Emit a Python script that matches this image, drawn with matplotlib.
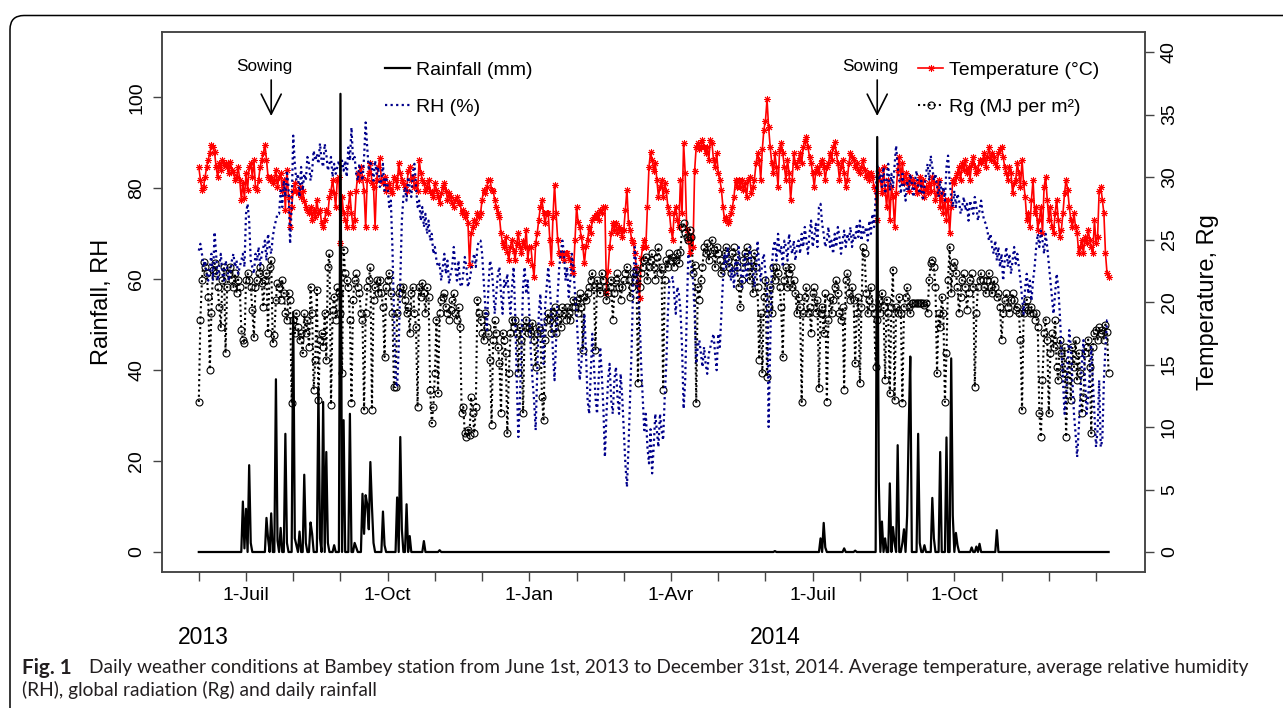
import numpy as np
import matplotlib
matplotlib.use('Agg')
import matplotlib.pyplot as plt
from matplotlib.patches import FancyBboxPatch

plt.rcParams['font.family'] = ['Liberation Sans', 'DejaVu Sans']

# ---------------- data (daily, 1 June 2013 = day 0 ... 31 Dec 2014 = day 578) ----------------
temp = [
    30.8, 29.8, 29.0, 29.2, 30.0, 30.8, 31.4, 31.9, 32.6, 32.4,
    32.0, 30.8, 30.0, 31.1, 30.6, 31.4, 31.0, 31.1, 30.8, 30.3,
    31.2, 30.6, 30.4, 29.8, 30.0, 30.8, 29.8, 28.2, 29.5, 28.3,
    30.3, 29.0, 30.8, 31.1, 30.0, 31.4, 29.2, 29.0, 29.8, 30.8,
    31.4, 31.9, 32.6, 31.4, 30.0, 29.8, 30.0, 29.5, 29.8, 30.6,
    29.2, 30.0, 30.3, 28.9, 29.8, 27.4, 30.6, 28.4, 26.0, 27.6,
    28.9, 29.5, 28.9, 28.7, 29.2, 28.4, 28.9, 28.1, 27.6, 27.4,
    27.1, 27.6, 26.6, 27.4, 26.8, 28.2, 27.1, 27.4, 26.3, 26.0,
    26.6, 27.4, 27.1, 28.4, 28.9, 29.8, 28.7, 27.6, 29.8, 30.0,
    24.7, 28.4, 27.1, 26.6, 26.0, 27.6, 28.7, 27.1, 26.0, 26.6,
    28.9, 30.3, 29.8, 30.8, 30.0, 28.9, 26.0, 29.8, 30.3, 31.1,
    29.5, 29.2, 26.0, 29.8, 30.8, 31.5, 29.8, 29.5, 30.0, 28.9,
    29.2, 29.5, 28.9, 28.7, 30.0, 29.8, 29.2, 31.1, 30.3, 29.8,
    29.5, 29.2, 28.9, 30.5, 30.8, 29.8, 30.0, 29.2, 29.5, 28.9,
    31.4, 30.3, 29.8, 29.5, 28.9, 29.2, 29.8, 28.9, 28.7, 28.4,
    29.5, 29.0, 28.4, 27.9, 28.7, 29.2, 29.5, 28.9, 28.2, 28.7,
    28.4, 27.9, 27.6, 28.2, 28.4, 27.9, 27.9, 27.1, 27.4, 26.8,
    27.1, 26.3, 23.0, 25.5, 26.0, 26.6, 26.3, 27.1, 26.8, 27.1,
    28.2, 29.0, 28.7, 29.2, 29.8, 29.8, 29.0, 28.9, 28.2, 27.6,
    27.1, 26.8, 25.5, 24.7, 24.4, 25.2, 24.0, 23.4, 24.4, 25.0,
    24.1, 23.4, 24.7, 25.5, 24.4, 23.9, 24.9, 24.4, 25.8, 23.4,
    24.4, 24.4, 23.0, 22.0, 24.7, 25.5, 26.6, 27.6, 28.2, 27.1,
    26.3, 27.1, 27.1, 25.0, 23.1, 26.8, 29.4, 27.1, 25.0, 23.9,
    23.7, 23.9, 23.4, 23.9, 23.9, 23.5, 23.4, 22.8, 22.3, 25.0,
    27.6, 26.4, 26.0, 25.2, 24.4, 23.1, 24.5, 25.0, 26.0, 25.5,
    26.6, 26.8, 26.8, 27.1, 26.6, 27.4, 27.1, 27.6, 27.6, 20.7,
    22.5, 24.4, 25.5, 26.3, 25.8, 26.3, 25.5, 26.0, 25.8, 25.2,
    25.8, 27.4, 29.0, 26.3, 25.8, 25.0, 24.7, 23.9, 22.8, 21.5,
    20.3, 23.5, 24.4, 25.0, 24.4, 27.6, 30.8, 32.0, 31.4, 30.5,
    31.1, 29.8, 28.4, 29.2, 29.8, 28.4, 29.5, 28.9, 27.6, 27.1,
    25.8, 25.0, 27.1, 27.6, 26.6, 26.0, 29.8, 27.1, 32.7, 30.3,
    25.8, 25.0, 23.9, 25.2, 24.4, 30.5, 32.4, 32.7, 32.2, 32.4,
    33.0, 32.4, 31.9, 32.4, 31.4, 33.0, 32.7, 31.4, 30.8, 31.9,
    30.3, 29.8, 29.0, 27.6, 26.6, 26.8, 26.3, 26.5, 27.1, 27.6,
    28.4, 29.8, 29.2, 29.8, 29.2, 29.8, 29.0, 29.5, 28.4, 29.8,
    30.0, 28.7, 29.2, 29.8, 31.1, 31.9, 31.4, 29.8, 32.2, 33.8,
    34.5, 36.2, 34.0, 32.4, 31.1, 30.3, 31.9, 30.8, 29.2, 32.2,
    32.7, 31.9, 30.8, 29.8, 31.4, 30.3, 28.2, 29.8, 31.9, 31.1,
    30.8, 31.4, 31.9, 31.1, 32.4, 32.9, 33.2, 32.4, 31.6, 31.1,
    30.3, 29.2, 30.5, 30.8, 30.3, 31.1, 31.4, 30.8, 29.8, 30.8,
    31.1, 31.9, 31.4, 32.4, 32.8, 31.9, 31.1, 29.8, 30.8, 31.4,
    30.3, 29.2, 29.8, 31.1, 31.9, 31.6, 31.4, 30.8, 31.1, 30.6,
    30.3, 30.8, 31.4, 30.6, 30.0, 30.3, 29.8, 30.3, 30.0, 29.2,
    28.9, 26.6, 30.6, 29.8, 28.7, 30.8, 29.0, 27.6, 29.8, 26.6,
    29.2, 28.4, 26.0, 28.7, 30.6, 31.6, 29.8, 31.1, 29.5, 30.3,
    29.8, 28.9, 30.0, 29.5, 29.8, 29.2, 28.7, 29.5, 30.0, 28.9,
    29.8, 28.4, 29.2, 28.7, 29.5, 28.9, 30.0, 29.5, 28.2, 28.7,
    29.8, 27.6, 28.7, 27.1, 28.2, 26.6, 28.2, 25.5, 27.6, 29.8,
    29.5, 30.0, 30.3, 30.8, 29.8, 31.1, 30.6, 31.4, 30.3, 30.8,
    29.8, 31.1, 31.6, 30.8, 30.3, 30.6, 31.4, 31.1, 31.4, 31.9,
    30.8, 31.6, 32.4, 31.4, 31.9, 31.6, 31.1, 30.8, 31.9, 32.2,
    32.4, 31.6, 30.8, 30.3, 29.8, 30.8, 30.3, 28.7, 29.5, 29.8,
    31.1, 30.3, 29.2, 31.4, 29.5, 28.4, 26.6, 27.1, 26.0, 28.2,
    29.8, 27.1, 27.6, 25.8, 26.6, 27.6, 25.5, 29.2, 30.0, 28.2,
    26.6, 27.6, 26.0, 25.5, 27.1, 28.2, 26.6, 25.2, 25.8, 27.1,
    28.7, 29.8, 29.0, 27.6, 26.6, 26.0, 27.1, 26.0, 25.5, 23.9,
    24.4, 25.0, 23.9, 25.2, 24.7, 25.8, 25.0, 24.4, 23.9, 26.6,
    24.7, 25.2, 28.9, 29.2, 28.2, 27.1, 23.9, 22.3, 22.0,
]

rh = [
    66.3, 67.8, 65.6, 62.7, 64.1, 61.2, 59.7, 62.7, 65.6, 59.7,
    70.4, 65.6, 59.7, 62.7, 65.6, 61.2, 59.7, 64.1, 62.7, 59.7,
    61.2, 64.1, 65.6, 62.7, 64.1, 61.2, 62.7, 64.1, 65.6, 62.7,
    74.4, 76.6, 72.9, 64.1, 62.7, 61.2, 65.6, 64.1, 67.1, 62.7,
    65.6, 67.1, 68.5, 64.1, 70.0, 67.1, 65.6, 69.3, 71.5, 72.9,
    74.4, 74.4, 79.5, 75.9, 81.7, 78.1, 83.9, 80.3, 67.8, 76.0,
    91.6, 85.4, 81.7, 83.2, 78.1, 84.7, 79.5, 83.2, 81.7, 86.9,
    85.4, 81.7, 83.9, 88.3, 86.1, 87.6, 85.4, 89.9, 86.1, 84.7,
    89.8, 87.6, 83.9, 85.4, 86.9, 82.5, 85.4, 83.2, 84.7, 86.1,
    83.9, 86.1, 83.9, 86.1, 82.5, 89.0, 86.1, 93.4, 86.1, 86.9,
    83.2, 81.7, 85.4, 83.2, 81.7, 86.9, 94.5, 89.0, 83.9, 86.1,
    84.7, 81.7, 86.1, 83.2, 84.7, 80.3, 81.7, 85.4, 79.5, 82.5,
    80.3, 75.9, 77.3, 67.1, 52.4, 37.8, 36.3, 45.1, 59.7, 72.9,
    78.1, 80.3, 77.3, 82.5, 80.3, 78.1, 83.2, 85.4, 80.3, 75.9,
    77.3, 72.9, 75.9, 71.5, 74.4, 70.0, 72.9, 68.5, 70.0, 65.6,
    67.1, 64.1, 62.7, 63.4, 59.7, 62.7, 65.6, 61.2, 64.1, 59.0,
    61.2, 62.7, 67.1, 62.7, 59.7, 64.1, 59.0, 58.3, 61.2, 64.9,
    62.7, 58.3, 59.7, 61.9, 64.1, 65.6, 62.7, 67.1, 68.5, 68.5,
    65.6, 59.7, 53.9, 48.8, 58.3, 64.1, 62.7, 58.3, 52.4, 56.8,
    61.2, 62.7, 56.8, 52.4, 59.7, 58.3, 61.2, 56.1, 52.4, 58.3,
    62.7, 52.4, 37.8, 25.3, 33.4, 45.1, 58.3, 62.7, 56.8, 59.7,
    52.4, 43.6, 37.8, 33.4, 26.8, 39.2, 52.4, 56.8, 48.0, 41.4,
    53.9, 58.3, 62.7, 58.3, 52.4, 43.6, 37.8, 46.6, 56.8, 62.7,
    65.6, 68.5, 65.6, 59.7, 62.7, 56.1, 59.7, 65.6, 62.7, 56.8,
    52.4, 45.1, 37.8, 41.4, 46.6, 52.4, 43.6, 33.4, 30.4, 39.2,
    48.0, 41.4, 34.1, 30.4, 37.8, 45.1, 39.2, 31.9, 20.9, 30.4,
    37.8, 41.4, 33.4, 30.4, 37.8, 40.7, 34.1, 30.4, 39.2, 34.1,
    26.8, 19.5, 14.3, 23.1, 34.1, 45.1, 59.7, 67.1, 62.7, 56.1,
    52.4, 41.4, 34.1, 26.8, 30.4, 23.1, 19.5, 27.0, 17.3, 23.1,
    30.4, 26.8, 23.1, 30.4, 26.8, 24.6, 34.1, 41.4, 52.4, 59.7,
    59.7, 60.5, 56.8, 52.4, 58.3, 56.8, 53.2, 45.1, 31.5, 37.8,
    52.4, 65.6, 64.1, 62.7, 59.7, 52.4, 41.4, 45.1, 46.6, 43.6,
    40.7, 45.1, 41.4, 39.2, 43.6, 45.1, 46.6, 48.0, 43.6, 40.0,
    48.0, 45.1, 52.4, 59.7, 65.6, 62.7, 67.1, 64.1, 59.7, 62.7,
    58.3, 64.1, 61.2, 67.1, 62.7, 58.3, 61.2, 65.6, 59.7, 62.7,
    67.1, 64.1, 61.2, 58.3, 62.7, 68.5, 62.7, 59.7, 64.1, 65.6,
    61.2, 59.7, 27.5, 45.1, 62.7, 67.1, 68.5, 64.1, 70.0, 65.6,
    67.1, 62.7, 68.5, 67.1, 64.1, 70.0, 67.1, 65.6, 68.5, 64.1,
    67.1, 68.5, 65.6, 70.0, 67.1, 71.5, 68.5, 65.6, 70.0, 72.9,
    67.1, 69.3, 72.2, 67.1, 75.9, 76.6, 72.2, 70.0, 67.1, 68.5,
    71.5, 67.1, 68.5, 65.6, 70.0, 67.1, 71.5, 69.3, 65.6, 68.5,
    70.7, 67.1, 70.0, 68.5, 71.5, 67.1, 70.0, 68.5, 72.2, 69.3,
    72.9, 68.5, 71.5, 70.0, 71.5, 68.5, 72.9, 70.0, 74.4, 71.5,
    78.0, 85.4, 81.7, 83.2, 80.3, 84.7, 78.8, 81.7, 85.4, 79.5,
    83.2, 80.3, 84.7, 89.4, 84.7, 81.7, 78.8, 83.2, 80.3, 77.3,
    81.7, 79.5, 83.2, 81.0, 78.1, 81.7, 83.9, 80.3, 78.8, 81.7,
    77.3, 80.3, 83.2, 85.4, 81.7, 87.2, 84.7, 81.7, 83.2, 80.3,
    78.1, 81.7, 78.8, 80.3, 77.3, 84.7, 87.2, 81.7, 78.1, 75.9,
    79.5, 75.9, 78.8, 77.3, 74.4, 75.9, 78.1, 75.2, 76.6, 72.9,
    77.3, 75.9, 74.4, 78.1, 75.9, 72.9, 75.2, 77.3, 74.4, 72.9,
    72.2, 70.7, 68.5, 70.0, 67.1, 65.6, 68.5, 64.1, 67.1, 62.7,
    65.6, 59.7, 64.1, 67.1, 62.7, 65.6, 61.2, 64.1, 67.1, 63.4,
    65.6, 62.7, 59.7, 56.1, 52.4, 58.3, 61.2, 56.8, 59.7, 55.3,
    59.7, 62.7, 67.1, 70.0, 67.1, 70.7, 68.5, 65.6, 70.0, 67.1,
    63.4, 59.7, 56.1, 52.4, 56.8, 61.2, 58.3, 52.4, 45.1, 37.8,
    30.4, 34.1, 41.4, 48.8, 45.1, 37.8, 30.4, 26.1, 20.9, 26.8,
    34.1, 41.4, 46.6, 37.8, 30.4, 34.1, 39.2, 45.1, 37.8, 30.4,
    23.1, 26.8, 37.8, 23.1, 24.6, 37.8, 45.1, 51.0, 51.0,
]

rg = [
    12.0, 18.6, 21.8, 23.2, 22.8, 22.3, 20.4, 14.6, 19.1, 22.6,
    23.1, 22.3, 21.2, 19.6, 18.0, 21.8, 22.8, 15.9, 21.2, 22.3,
    22.8, 21.8, 21.2, 22.3, 20.7, 21.8, 21.2, 17.8, 17.0, 16.7,
    21.8, 22.3, 21.8, 21.2, 19.4, 17.2, 21.2, 21.8, 22.3, 22.8,
    21.5, 19.6, 21.8, 22.3, 17.5, 22.8, 23.4, 16.7, 17.4, 20.2,
    21.5, 21.2, 20.2, 21.8, 20.7, 19.1, 18.6, 20.7, 20.2, 11.9,
    18.6, 17.5, 19.1, 18.0, 17.0, 17.5, 15.9, 19.1, 17.5, 18.6,
    16.4, 21.2, 19.1, 13.0, 15.4, 21.0, 12.2, 17.0, 17.5, 16.4,
    19.1, 15.4, 22.8, 23.9, 11.8, 19.4, 20.4, 18.6, 21.2, 20.7,
    19.1, 14.3, 24.2, 22.3, 21.8, 21.2, 18.6, 11.9, 20.2, 21.8,
    22.3, 21.2, 20.7, 19.1, 18.6, 11.4, 19.1, 21.2, 21.8, 22.8,
    11.4, 20.2, 21.2, 21.8, 20.7, 21.8, 20.7, 19.6, 15.6, 21.2,
    21.8, 22.3, 20.7, 19.1, 13.2, 13.2, 19.1, 20.7, 21.2, 20.7,
    21.2, 20.2, 19.1, 19.6, 17.5, 20.7, 21.2, 19.1, 18.0, 11.6,
    21.2, 20.4, 21.5, 20.7, 19.1, 21.2, 20.4, 13.0, 10.3, 11.6,
    14.3, 18.6, 12.7, 19.1, 20.2, 20.4, 20.7, 19.6, 19.1, 18.6,
    19.4, 20.2, 20.7, 19.1, 18.6, 19.6, 18.0, 11.1, 11.6, 9.5,
    9.2, 9.8, 9.4, 12.4, 11.1, 9.5, 11.6, 20.2, 19.1, 18.6,
    17.5, 17.0, 19.1, 18.0, 17.5, 15.4, 10.2, 17.0, 18.6, 17.5,
    16.4, 15.1, 11.1, 17.5, 17.0, 15.9, 9.5, 14.3, 17.5, 18.6,
    18.0, 18.6, 17.5, 14.3, 18.0, 17.0, 11.1, 18.0, 18.6, 17.5,
    18.0, 17.5, 18.3, 17.0, 14.8, 17.5, 18.0, 17.8, 12.4, 10.6,
    17.0, 18.6, 19.1, 18.6, 17.5, 19.1, 19.6, 17.5, 18.6, 19.1,
    18.0, 19.6, 19.1, 18.6, 19.6, 19.1, 18.6, 19.6, 20.2, 19.6,
    20.2, 19.1, 20.7, 19.6, 16.2, 20.4, 20.2, 20.7, 21.2, 21.8,
    22.3, 21.2, 16.2, 21.8, 21.2, 20.7, 22.3, 21.8, 21.2, 20.2,
    20.7, 21.2, 21.8, 18.6, 20.7, 21.8, 22.3, 21.2, 20.2, 21.2,
    21.8, 22.3, 22.8, 21.8, 20.4, 21.2, 22.3, 21.8, 22.6, 13.5,
    21.2, 22.3, 22.8, 23.4, 23.6, 21.8, 22.8, 23.4, 23.9, 22.8,
    21.8, 23.6, 24.4, 22.3, 22.8, 13.0, 21.8, 23.4, 22.8, 23.9,
    23.4, 23.6, 22.8, 23.4, 23.9, 23.1, 24.0, 26.0, 26.3, 25.5,
    25.2, 25.0, 25.8, 25.2, 22.3, 23.0, 11.9, 21.2, 20.2, 21.8,
    22.8, 24.4, 23.9, 24.7, 23.4, 23.9, 25.0, 24.2, 22.8, 24.4,
    23.9, 23.4, 22.3, 22.8, 23.9, 24.4, 23.4, 22.8, 22.3, 23.9,
    24.4, 23.6, 22.8, 21.2, 19.6, 21.8, 23.4, 23.9, 24.4, 22.8,
    21.8, 23.4, 20.7, 23.9, 22.8, 21.2, 15.4, 19.1, 14.3, 20.4,
    21.8, 14.0, 19.6, 21.2, 19.1, 22.8, 21.8, 22.8, 22.3, 21.2,
    19.6, 15.6, 21.8, 22.8, 21.2, 22.3, 22.8, 21.2, 21.8, 20.7,
    19.1, 20.4, 19.6, 12.0, 19.1, 20.4, 21.2, 19.1, 19.6, 17.5,
    20.7, 21.2, 19.1, 20.2, 13.1, 19.1, 19.6, 17.5, 20.7, 12.0,
    18.6, 20.4, 19.1, 20.2, 21.2, 21.8, 20.7, 19.1, 18.6, 19.6,
    13.0, 21.8, 22.3, 20.7, 20.2, 21.2, 20.2, 15.1, 19.1, 20.4,
    13.5, 19.6, 24.4, 23.9, 20.7, 19.1, 20.2, 21.2, 19.6, 19.1,
    14.8, 18.6, 20.2, 19.1, 20.7, 19.6, 13.8, 20.2, 19.1, 12.7,
    19.6, 22.6, 12.2, 19.6, 19.1, 20.4, 19.1, 11.9, 19.6, 20.4,
    21.2, 19.6, 19.1, 19.9, 19.9, 19.9, 19.9, 19.9, 19.9, 19.9,
    19.9, 19.8, 19.9, 19.1, 21.8, 23.1, 23.4, 22.8, 21.2, 14.3,
    19.1, 18.0, 20.4, 19.1, 12.0, 15.9, 21.8, 24.4, 20.7, 22.8,
    23.2, 22.3, 21.2, 19.1, 20.4, 21.8, 22.3, 21.2, 19.4, 20.7,
    21.8, 22.3, 21.2, 13.2, 19.1, 21.2, 21.8, 22.3, 21.8, 21.2,
    20.7, 21.8, 22.3, 21.2, 20.7, 21.8, 21.2, 20.4, 20.7, 19.6,
    17.0, 19.1, 20.2, 20.7, 19.6, 19.1, 20.2, 20.7, 20.2, 19.4,
    19.6, 19.1, 17.0, 11.4, 19.1, 19.6, 20.2, 19.4, 19.1, 19.6,
    19.1, 18.6, 19.1, 18.0, 11.1, 9.2, 13.8, 17.5, 18.6, 17.0,
    11.1, 15.9, 17.5, 16.4, 18.6, 14.8, 13.8, 17.0, 15.9, 14.3,
    16.4, 9.2, 13.8, 15.4, 12.2, 16.4, 14.8, 17.0, 13.8, 15.9,
    14.3, 11.1, 12.4, 15.9, 16.4, 17.0, 14.8, 9.5, 16.4, 17.5,
    17.8, 17.0, 18.0, 17.5, 17.8, 17.0, 18.2, 17.6, 14.3,
]

# rainfall: only rainy days listed (all other days 0 mm)
rain_days = [28, 29, 30, 32, 33, 43, 44, 46, 49, 50, 52, 55, 56, 60, 61, 62, 64,
             67, 68, 71, 72, 76, 77, 79, 81, 82, 86, 90, 92, 96, 99, 100,
             104, 105, 106, 107, 108, 109, 110, 111, 117, 118, 126, 128, 129,
             132, 134, 143, 153,
             366, 395, 397, 398, 410, 417, 431, 432, 434, 436, 439, 441, 442,
             444, 447, 448, 450, 451, 452, 457, 458, 461, 466, 467, 471, 475,
             478, 479, 481, 482, 491, 494, 496, 507]
rain_mm = [11.1, 0.8, 9.5, 19.1, 2.0, 7.5, 3.0, 8.5, 38.0, 2.5, 5.3, 26.0, 2.0,
           52.8, 3.0, 1.5, 4.5, 17.0, 2.0, 6.5, 4.0, 36.3, 3.0, 33.0, 22.0,
           2.0, 1.5, 100.8, 29.0, 30.4, 2.0, 1.0,
           12.8, 4.0, 12.5, 10.5, 5.0, 19.8, 10.0, 2.0, 8.9, 1.5, 12.0, 25.3,
           5.0, 10.5, 3.5, 2.4, 0.4,
           0.2, 3.0, 6.4, 1.0, 0.8, 0.3, 91.3, 15.5, 6.7, 3.0, 15.1, 5.5, 2.0,
           23.5, 2.0, 5.0, 8.0, 27.0, 43.0, 26.0, 2.0, 1.5, 11.9, 3.0, 22.0,
           25.2, 42.6, 8.0, 4.2, 1.5, 1.0, 1.2, 1.8, 4.8]

tick_days = list(range(0, 571, 30))
tick_labels = ['', '1-Juil', '', '', '1-Oct', '', '', '1-Jan', '', '',
               '1-Avr', '', '', '1-Juil', '', '', '1-Oct', '', '', '']
left_ticks = [0, 20, 40, 60, 80, 100]
right_ticks = [0, 5, 10, 15, 20, 25, 30, 35, 40]
sowing_days = [46, 431]
year_labels = ['2013', '2014']

n = len(temp)
days = np.arange(n)
rain = np.zeros(n)
rain[rain_days] = rain_mm

# ---------------- figure ----------------
W, H = 1283, 708
fig = plt.figure(figsize=(W / 100, H / 100), dpi=100)
fig.patch.set_facecolor('white')


def fx(px):
    return px / W


def fy(py):
    return 1 - py / H


L, R, T, B = 162.4, 1145.0, 32.0, 572.0
ax = fig.add_axes([fx(L), fy(B), fx(R) - fx(L), fy(T) - fy(B)])
ax2 = ax.twinx()
ax.set_zorder(ax2.get_zorder() + 1)
ax.patch.set_visible(False)

dotted = (0, (1, 1.5))
l_temp, = ax2.plot(days, temp, color='#ff0000', lw=1.2, marker=(8, 2, 0),
                   ms=5, mew=0.7, mec='#ff0000')
l_rg, = ax2.plot(days, rg, color='black', lw=1.5, ls=dotted, marker='o',
                 ms=5, mfc='none', mec='black', mew=0.8)
l_rh, = ax.plot(days, rh, color='#00008b', lw=1.6, ls=dotted)
l_rain, = ax.plot(days, rain, color='black', lw=1.6)

ax.set_xlim(-23.12, 601.12)
ax.set_ylim(-4.4, 114.4)
ax2.set_ylim(-1.6, 41.6)

spine_col = '#444444'
for a in (ax, ax2):
    for s in a.spines.values():
        s.set_color(spine_col)
        s.set_linewidth(1.1)

ax.set_xticks(tick_days)
ax.set_xticklabels(tick_labels, fontsize=14)
ax.set_yticks(left_ticks)
ax.set_yticklabels([str(v) for v in left_ticks], fontsize=14, rotation=90,
                   va='center')
ax2.set_yticks(right_ticks)
ax2.set_yticklabels([str(v) for v in right_ticks], fontsize=14, rotation=90,
                    va='center')
ax.tick_params(axis='x', direction='out', length=6.5, width=1.0,
               color=spine_col, pad=4.5)
ax.tick_params(axis='y', direction='out', length=6.5, width=1.0,
               color=spine_col, pad=6)
ax2.tick_params(axis='y', direction='out', length=6.5, width=1.0,
                color=spine_col, pad=5)

ax.set_ylabel('Rainfall, RH', fontsize=17, va='center')
ax.yaxis.set_label_coords((102 - L) / (R - L), 0.5)
ax2.set_ylabel('Temperature, Rg', fontsize=17, va='center', rotation=90)
ax2.yaxis.set_label_coords((1208 - L) / (R - L), 0.5)

# legends
leg_kw = dict(loc='upper left', frameon=False, fontsize=14, handlelength=1.29,
              handletextpad=0.31, labelspacing=1.02, borderpad=0,
              borderaxespad=0, numpoints=1)
leg1 = ax.legend([l_rain, l_rh], ['Rainfall (mm)', 'RH (%)'],
                 bbox_to_anchor=((385 - L) / (R - L), (B - 61) / (B - T)),
                 **leg_kw)
ax.add_artist(leg1)
leg2 = ax.legend([l_temp, l_rg], ['Temperature (°C)', 'Rg (MJ per m²)'],
                 bbox_to_anchor=((918 - L) / (R - L), (B - 61) / (B - T)),
                 **leg_kw)

# sowing arrows
xtr = ax.get_xaxis_transform()
for d in sowing_days:
    ax.annotate('', xy=(d, (B - 116) / (B - T)), xytext=(d, (B - 80) / (B - T)),
                xycoords=xtr, textcoords=xtr,
                arrowprops=dict(arrowstyle='->', color='black', lw=1.2,
                                shrinkA=0, shrinkB=0, mutation_scale=36))
    ax.text(d - 4.2, (B - 66.5) / (B - T), 'Sowing', transform=xtr,
            ha='center', va='center', fontsize=12.3)

# year labels
fig.text(fx(203), fy(637), year_labels[0], ha='center', va='center',
         fontsize=16.5)
fig.text(fx(775), fy(637), year_labels[1], ha='center', va='center',
         fontsize=16.5)

# outer rounded frame (article figure box)
frame = FancyBboxPatch((0.10, -0.5), 13.5, 7.08 - 0.155 + 0.5,
                       boxstyle='round,pad=0,rounding_size=0.14',
                       transform=fig.dpi_scale_trans, fill=False,
                       ec='black', lw=1.1)
fig.add_artist(frame)

# caption
cap_col = '#231f20'
cap1 = ('Daily weather conditions at Bambey station from June 1st, 2013 to '
        'December 31st, 2014. Average temperature, average relative humidity')
cap2 = '(RH), global radiation (Rg) and daily rainfall'
t1 = fig.text(fx(89), fy(668), cap1, ha='left', va='center', fontsize=12,
              family=['Lato', 'DejaVu Sans'], color=cap_col)
fig.canvas.draw()
rend = fig.canvas.get_renderer()
w1 = t1.get_window_extent(rend).width
cap_size = 12 * (1249 - 89) / w1
t1.set_fontsize(cap_size)
fig.text(fx(22), fy(668), 'Fig. 1', ha='left', va='center',
         fontsize=cap_size * 1.08, family=['Lato', 'DejaVu Sans'],
         weight='bold', color=cap_col)
fig.text(fx(22), fy(690), cap2, ha='left', va='center', fontsize=cap_size,
         family=['Lato', 'DejaVu Sans'], color=cap_col)

fig.savefig('out.png', dpi=100)
